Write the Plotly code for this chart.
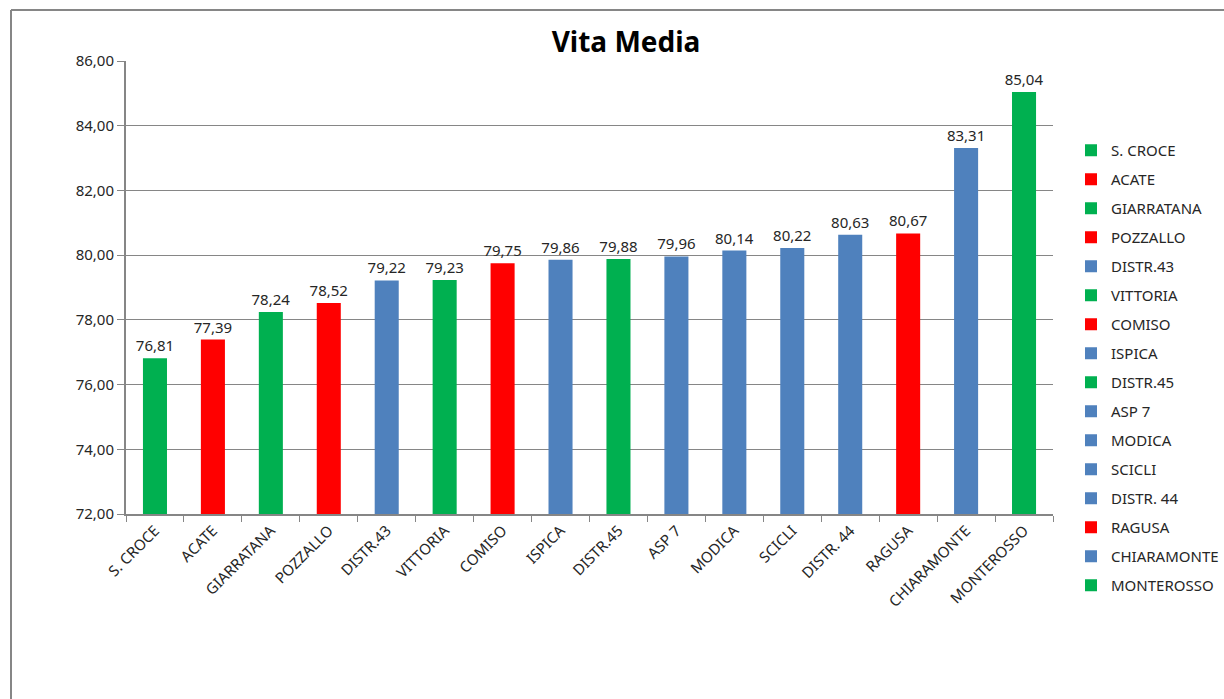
import plotly.graph_objects as go

# Life expectancy by area
categories = ["S. CROCE", "ACATE", "GIARRATANA", "POZZALLO", "DISTR.43", "VITTORIA",
              "COMISO", "ISPICA", "DISTR.45", "ASP 7", "MODICA", "SCICLI",
              "DISTR. 44", "RAGUSA", "CHIARAMONTE", "MONTEROSSO"]
values = [76.81, 77.39, 78.24, 78.52, 79.22, 79.23, 79.75, 79.86, 79.88, 79.96,
          80.14, 80.22, 80.63, 80.67, 83.31, 85.04]
groups = ["g", "r", "g", "r", "b", "g", "r", "b", "g", "b", "b", "b", "b", "r", "b", "g"]

palette = {"g": "#00B050", "r": "#FF0000", "b": "#4F81BD"}
FONT = "Noto Sans"

fig = go.Figure()
for cat, val, grp in zip(categories, values, groups):
    fig.add_trace(go.Bar(
        x=[cat], y=[val], name=cat, legendgroup=cat,
        marker=dict(color=palette[grp], line=dict(width=0)),
        texttemplate="%{y:.2f}", textposition="outside",
        constraintext="none",
        textfont=dict(size=15, color="#262626", family=FONT),
        cliponaxis=False,
    ))

fig.update_layout(
    width=1224, height=699,
    margin=dict(l=126, r=171, t=61, b=185, autoexpand=False),
    paper_bgcolor="white", plot_bgcolor="white",
    separators=",.",
    barmode="overlay", bargap=0.585,
    title=dict(text="<b>Vita Media</b>", x=626 / 1224, xanchor="center",
               y=1 - 42 / 699, yanchor="middle",
               font=dict(size=28, color="black", family=FONT)),
    font=dict(family=FONT, size=15, color="#262626"),
    showlegend=True,
    legend=dict(x=(1071 - 126) / 927, xanchor="left", y=(514 - 134) / 453, yanchor="top",
                font=dict(size=15, family=FONT, color="#262626"),
                tracegroupgap=6.5, itemwidth=30, maxheight=650,
                bgcolor="rgba(0,0,0,0)"),
    xaxis=dict(type="category", tickangle=-45, showgrid=False,
               showline=True, linecolor="#868686", linewidth=2,
               ticks="outside", tickson="boundaries", ticklen=6, tickcolor="#868686",
               tickfont=dict(size=15, family=FONT, color="#262626")),
    yaxis=dict(range=[72, 86], dtick=2, tickformat=".2f",
               showgrid=True, gridcolor="#868686", gridwidth=1,
               showline=True, linecolor="#868686", linewidth=2,
               ticks="outside", ticklen=7, tickcolor="#868686",
               tickfont=dict(size=15, family=FONT, color="#262626"),
               zeroline=False),
)

# Chart-area frame
fig.add_shape(type="line", xref="paper", yref="paper",
              x0=(11 - 126) / 927, x1=(11 - 126) / 927,
              y0=(514 - 10) / 453, y1=(514 - 720) / 453,
              line=dict(color="#868686", width=2))
fig.add_shape(type="line", xref="paper", yref="paper",
              x0=(11 - 126) / 927, x1=(1240 - 126) / 927,
              y0=(514 - 10) / 453, y1=(514 - 10) / 453,
              line=dict(color="#868686", width=2))

fig.write_html("out.html")
